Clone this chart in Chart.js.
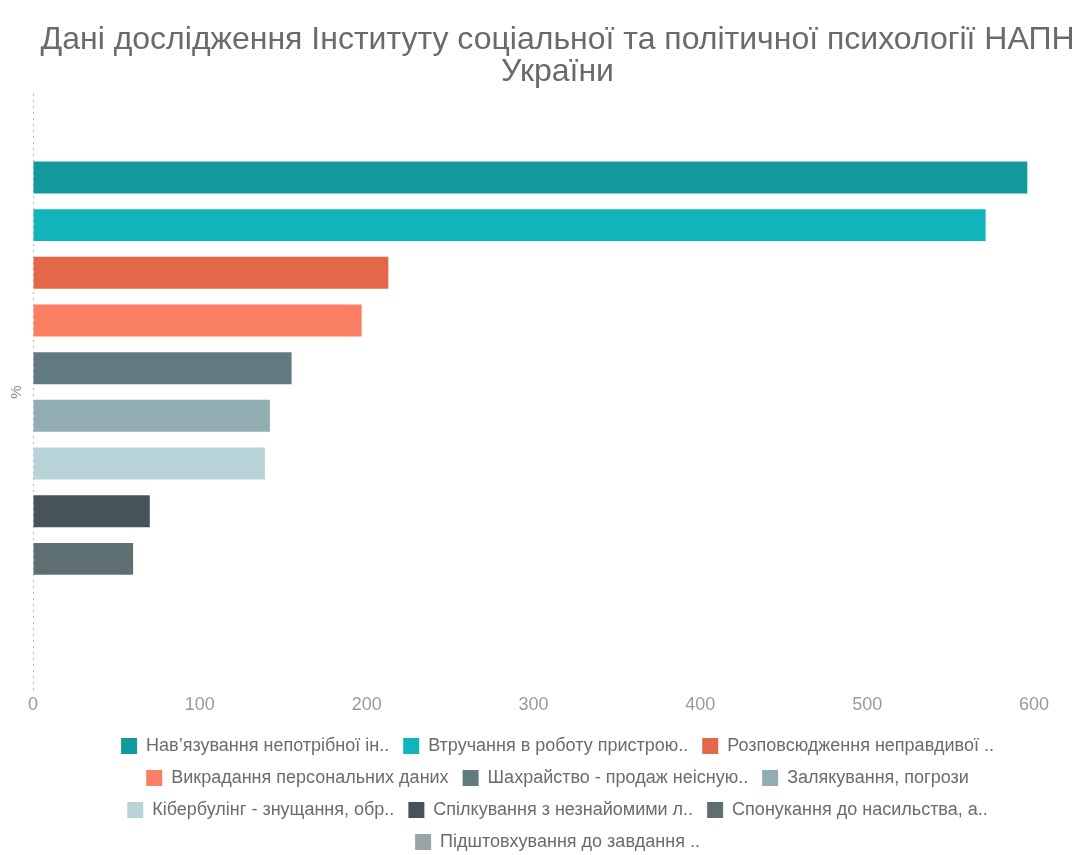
<!DOCTYPE html>
<html>
<head>
<meta charset="utf-8">
<script src="https://cdn.jsdelivr.net/npm/chart.js@4/dist/chart.umd.min.js"></script>
<style>
  html, body { margin: 0; padding: 0; background: #fff; overflow: hidden; }
  #wrap { width: 1115px; height: 861px; }
</style>
</head>
<body>
<div id="wrap"><canvas id="chart_bars"></canvas></div>
<script>
// categories (one per dataset / legend entry)
const categories = [
    "Нав’язування непотрібної ін..",
    "Втручання в роботу пристрою..",
    "Розповсюдження неправдивої ..",
    "Викрадання персональних даних",
    "Шахрайство - продаж неісную..",
    "Залякування, погрози",
    "Кібербулінг - знущання, обр..",
    "Спілкування з незнайомими л..",
    "Спонукання до насильства, а..",
    "Підштовхування до завдання .."
];
const values = [596, 571, 213, 197, 155, 142, 139, 70, 60, 0];
const colors = [
    "#12999b", "#10b4ba", "#e4674a", "#fb7f62", "#607a80",
    "#92adb2", "#b7d3d8", "#465459", "#5e6f71", "#9aa4a6"
];
const xTicks = [0, 100, 200, 300, 400, 500, 600];

const FONT = "Liberation Sans, Arial, sans-serif";

const datasets = categories.map((name, i) => ({
    label: name,
    data: [values[i]],
    backgroundColor: colors[i],
    borderWidth: 0,
    barPercentage: 0.67,
    categoryPercentage: 0.8,
}));

const ctx = document.getElementById("chart_bars");
new Chart(ctx, {
    type: "bar",
    data: { labels: ["%"], datasets: datasets },
    options: {
        indexAxis: "y",
        responsive: true,
        maintainAspectRatio: false,
        animation: false,
        layout: { padding: 0 },
        plugins: {
            tooltip: { enabled: false },
            title: {
                display: true,
                text: ["Дані дослідження Інституту соціальної та політичної психології НАПН", "України"],
                color: "#6a6a6a",
                font: { family: FONT, size: 32, weight: "normal", lineHeight: 1.0 },
                padding: { top: 24, bottom: 6 },
            },
            legend: {
                position: "bottom",
                labels: {
                    boxWidth: 16,
                    boxHeight: 16,
                    padding: 14,
                    color: "#6b6b6b",
                    font: { family: FONT, size: 18 },
                },
            },
        },
        scales: {
            x: {
                min: 0,
                max: 600,
                afterBuildTicks: (scale) => {
                    scale.ticks = xTicks.map(v => ({ value: v }));
                },
                afterFit: (scale) => {
                    scale.paddingRight = 81;
                    scale.height = 33;
                },
                // only the zero line is drawn, dotted, as the axis line
                grid: {
                    display: true,
                    drawTicks: false,
                    lineWidth: 1,
                    color: (c) => (c.tick && c.tick.value === 0 ? "#b5b5b5" : "rgba(0,0,0,0)"),
                },
                border: { display: false, dash: [2, 4] },
                ticks: {
                    color: "#9a9a9a",
                    padding: 4,
                    font: { family: FONT, size: 18 },
                },
            },
            y: {
                afterFit: (scale) => {
                    scale.width = 33;
                },
                grid: { display: false, drawTicks: false },
                border: { display: false },
                ticks: { display: false },
                title: {
                    display: true,
                    text: "%",
                    color: "#8a8a8a",
                    font: { family: FONT, size: 15 },
                    padding: { top: 8, bottom: 6 },
                },
            },
        },
    },
});
</script>
</body>
</html>
